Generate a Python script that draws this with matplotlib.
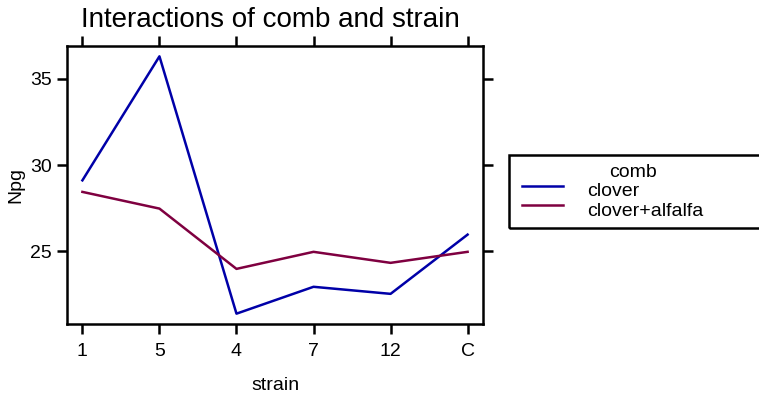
import matplotlib
matplotlib.use("Agg")
import matplotlib.pyplot as plt
from matplotlib.lines import Line2D
from matplotlib.patches import Rectangle

plt.rcParams['font.family'] = ['Liberation Sans', 'DejaVu Sans']

strains = ["1", "5", "4", "7", "12", "C"]
clover = [29.11, 36.31, 21.37, 22.93, 22.52, 25.96]
clover_alfalfa = [28.44, 27.47, 23.97, 24.96, 24.32, 24.96]
series_names = ["clover", "clover+alfalfa"]
legend_title = "comb"
colors = ["#0000a8", "#7f0040"]

fig = plt.figure(figsize=(7.59, 3.97), dpi=100)
ax = fig.add_axes([67/759, 73/397, 416/759, 278/397])

x = list(range(len(strains)))
for vals, c, n in zip([clover, clover_alfalfa], colors, series_names):
    ax.plot(x, vals, color=c, lw=1.8, label=n)

ax.set_xlim(-0.2, 5.2)
ax.set_ylim(20.77, 36.91)
ax.set_xticks(x)
ax.set_xticklabels(strains)
ax.set_yticks([25, 30, 35])
for s in ax.spines.values():
    s.set_linewidth(1.8)
ax.tick_params(direction='out', length=7, width=1.8, labelsize=14,
               top=True, right=True, labeltop=False, labelright=False)
ax.tick_params(axis='x', pad=7)
ax.tick_params(axis='y', pad=4)
ax.set_xlabel("strain", fontsize=14, labelpad=12)
ax.set_ylabel("Npg", fontsize=14, labelpad=4)
t = ax.set_title("Interactions of comb and strain", fontsize=20, pad=14, loc='center')
t.set_x(0.49)

# legend drawn manually in figure coordinates
W, H = 759, 397
fig.patches.append(Rectangle((509/W, 1 - 228/H), 300/W, 73/H, transform=fig.transFigure,
                             fill=False, lw=1.8, edgecolor='black'))
fig.text(633/W, 1 - 176.7/H, legend_title, ha='center', va='baseline', fontsize=14)
line_y = [186, 205]
text_y = [195.7, 216.5]
for i, (c, n) in enumerate(zip(colors, series_names)):
    yy = 1 - line_y[i]/H
    fig.lines.append(Line2D([522/W, 563/W], [yy, yy], transform=fig.transFigure,
                            color=c, lw=1.8))
    fig.text(587/W, 1 - text_y[i]/H, n, ha='left', va='baseline', fontsize=14)

fig.savefig("out.png", dpi=100)
